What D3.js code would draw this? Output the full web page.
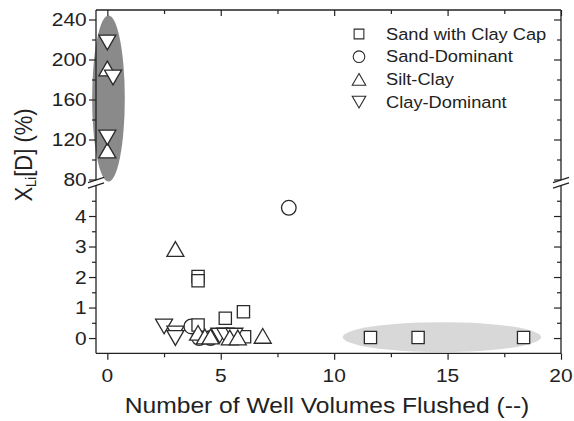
<!DOCTYPE html>
<html>
<head>
<meta charset="utf-8">
<script src="https://cdn.jsdelivr.net/npm/d3@7"></script>
<style>
  html, body { margin: 0; padding: 0; background: #fff; }
  svg { display: block; font-family: Arial, "Liberation Sans", Helvetica, sans-serif; }
</style>
</head>
<body>
<svg id="chart" width="574" height="421"></svg>
<script>
// ---------------- data ----------------
const seriesNames = ["Sand with Clay Cap", "Sand-Dominant", "Silt-Clay", "Clay-Dominant"];
const seriesShapes = ["square", "circle", "triUp", "triDown"];

// lower panel (0 - 5 %)
const sandClayCapLow = [[4.0, 2.02], [4.0, 1.88], [4.0, 0.43], [5.2, 0.65], [6.0, 0.86], [6.05, 0.04], [11.6, 0.02], [13.7, 0.02], [18.35, 0.02]];
const sandDominantLow = [[8.0, 4.27], [3.7, 0.38], [4.05, 0.0], [4.55, 0.0]];
const siltClayLow = [[3.0, 2.92], [4.0, 0.17], [4.3, 0.05], [4.55, 0.05], [5.4, 0.02], [5.75, 0.02], [6.85, 0.07]];
const clayDominantLow = [[2.5, 0.38], [3.0, 0.15], [3.0, 0.0], [4.95, 0.08], [5.2, 0.08], [5.6, 0.08]];

// upper panel (80 - 240 %)
const siltClayHigh = [[0.0, 191], [0.0, 109]];
const clayDominantHigh = [[0.0, 217], [0.25, 182], [0.0, 122]];

// axis ticks
const xMajor = [0, 5, 10, 15, 20];
const xMinor = [2.5, 7.5, 12.5, 17.5];
const yHighMajor = [80, 120, 160, 200, 240];
const yHighMinor = [100, 140, 180, 220];
const yLowMajor = [0, 1, 2, 3, 4];
const yLowMinor = [0.5, 1.5, 2.5, 3.5, 4.5];

// highlight ellipses (data units)
const darkEllipse = { panel: "high", cx: 0.05, cy: 161, rx: 0.72, ry: 83 };
const lightEllipse = { panel: "low", cx: 14.75, cy: 0.03, rx: 4.37, ry: 0.49 };

// ---------------- layout ----------------
const svg = d3.select("#chart");
const L = 96, R = 561, T = 10, B = 353.3;
const breakHigh = 180, breakLow = 185.5;
const SX = 1.12; // horizontal text stretch of the original
const ink = "#222";

const x = d3.scaleLinear().domain([-0.5, 20]).range([L, R]);
const yHigh = d3.scaleLinear().domain([79.5, 249.5]).range([breakHigh, T]);
const yLow = d3.scaleLinear().domain([-0.5, 5.0]).range([B, breakLow]);

// ellipses
function drawEllipse(e, fill) {
  const ys = e.panel === "high" ? yHigh : yLow;
  svg.append("ellipse")
    .attr("cx", x(e.cx)).attr("cy", ys(e.cy))
    .attr("rx", Math.abs(x(e.cx + e.rx) - x(e.cx)))
    .attr("ry", Math.abs(ys(e.cy + e.ry) - ys(e.cy)))
    .attr("fill", fill);
}
drawEllipse(darkEllipse, "#8a8a8a");
drawEllipse(lightEllipse, "#d8d8d8");

// axes tick lines via d3 axes
function tickAxis(gen, tx, ty) {
  const g = svg.append("g").attr("transform", `translate(${tx},${ty})`).call(gen);
  g.select(".domain").remove();
  g.selectAll("line").attr("stroke", ink).attr("stroke-width", 1.2);
  g.selectAll("text").remove();
  return g;
}
// bottom (outward)
tickAxis(d3.axisBottom(x).tickValues(xMajor).tickSize(6.5).tickFormat(""), 0, B);
tickAxis(d3.axisBottom(x).tickValues(xMinor).tickSize(4).tickFormat(""), 0, B);
// top (inward)
tickAxis(d3.axisBottom(x).tickValues(xMajor).tickSize(6).tickFormat(""), 0, T);
tickAxis(d3.axisBottom(x).tickValues(xMinor).tickSize(4).tickFormat(""), 0, T);
// left (outward)
tickAxis(d3.axisLeft(yHigh).tickValues(yHighMajor).tickSize(7).tickFormat(""), L, 0);
tickAxis(d3.axisLeft(yHigh).tickValues(yHighMinor).tickSize(4).tickFormat(""), L, 0);
tickAxis(d3.axisLeft(yLow).tickValues(yLowMajor).tickSize(7).tickFormat(""), L, 0);
tickAxis(d3.axisLeft(yLow).tickValues(yLowMinor).tickSize(4).tickFormat(""), L, 0);
// right (inward)
tickAxis(d3.axisLeft(yHigh).tickValues(yHighMajor).tickSize(7).tickFormat(""), R, 0);
tickAxis(d3.axisLeft(yHigh).tickValues(yHighMinor).tickSize(4).tickFormat(""), R, 0);
tickAxis(d3.axisLeft(yLow).tickValues(yLowMajor).tickSize(7).tickFormat(""), R, 0);
tickAxis(d3.axisLeft(yLow).tickValues(yLowMinor).tickSize(4).tickFormat(""), R, 0);

// frame with broken vertical axes
const frame = svg.append("g").attr("stroke", ink).attr("stroke-width", 1.3).attr("fill", "none");
frame.append("line").attr("x1", L).attr("x2", R).attr("y1", T).attr("y2", T);
frame.append("line").attr("x1", L).attr("x2", R).attr("y1", B).attr("y2", B);
[L, R].forEach(xx => {
  frame.append("line").attr("x1", xx).attr("x2", xx).attr("y1", T).attr("y2", breakHigh);
  frame.append("line").attr("x1", xx).attr("x2", xx).attr("y1", breakLow).attr("y2", B);
  // break marks
  [breakHigh, breakLow].forEach(yy => {
    frame.append("line")
      .attr("x1", xx - 8).attr("y1", yy + 2.6)
      .attr("x2", xx + 8).attr("y2", yy - 2.6);
  });
});

// stretched text helper
function txt(s, px, py, size, anchor) {
  return svg.append("text")
    .attr("transform", `translate(${px},${py}) scale(${SX},1)`)
    .attr("text-anchor", anchor || "start")
    .attr("font-size", size)
    .attr("fill", ink)
    .text(s);
}

// tick labels
xMajor.forEach(v => txt(String(v), x(v), 381.7, 18.7, "middle"));
yHighMajor.forEach(v => txt(String(v), 86.7, yHigh(v) + 6.7, 18.7, "end"));
yLowMajor.forEach(v => txt(String(v), 86.7, yLow(v) + 6.7, 18.7, "end"));

// axis titles
txt("Number of Well Volumes Flushed (--)", 327, 413.3, 22, "middle");
const yt = svg.append("text")
  .attr("transform", `translate(31.7,155) rotate(-90) scale(1,${SX})`)
  .attr("text-anchor", "middle")
  .attr("font-size", 22)
  .attr("fill", ink);
yt.append("tspan").text("X");
yt.append("tspan").attr("font-size", 13).attr("dy", 4).text("Li");
yt.append("tspan").attr("dy", -4).text("[D] (%)");

// markers
function shapePath(shape, s) {
  // s = nominal size
  if (shape === "square") {
    const h = s * 0.36;
    return `M${-h},${-h}H${h}V${h}H${-h}Z`;
  }
  if (shape === "circle") {
    const r = s * 0.43;
    return `M${r},0A${r},${r} 0 1,1 ${-r},0A${r},${r} 0 1,1 ${r},0Z`;
  }
  const w = s * 0.5, hh = s * 0.866 / 2;
  if (shape === "triUp") return `M0,${-hh}L${w},${hh}L${-w},${hh}Z`;
  return `M0,${hh}L${w},${-hh}L${-w},${-hh}Z`;
}

function drawPoints(data, ys, shape, size) {
  svg.append("g").selectAll("path").data(data).join("path")
    .attr("transform", d => `translate(${x(d[0])},${ys(d[1])})`)
    .attr("d", shapePath(shape, size))
    .attr("fill", "#fff")
    .attr("stroke", "#2a2a2a")
    .attr("stroke-width", 1.3);
}
const MS = 17;
drawPoints(sandDominantLow, yLow, "circle", MS);
drawPoints(sandClayCapLow, yLow, "square", MS);
drawPoints(clayDominantLow, yLow, "triDown", MS);
drawPoints(siltClayLow, yLow, "triUp", MS);
drawPoints(siltClayHigh, yHigh, "triUp", MS);
drawPoints(clayDominantHigh, yHigh, "triDown", MS);

// legend
const lg = svg.append("g");
seriesNames.forEach((name, i) => {
  const base = 39.5 + i * 22.7;
  lg.append("path")
    .attr("transform", `translate(359,${base - 5.5})`)
    .attr("d", shapePath(seriesShapes[i], 13.5))
    .attr("fill", "#fff").attr("stroke", "#2a2a2a").attr("stroke-width", 1.1);
  txt(name, 386, base, 16.3, "start");
});
</script>
</body>
</html>
